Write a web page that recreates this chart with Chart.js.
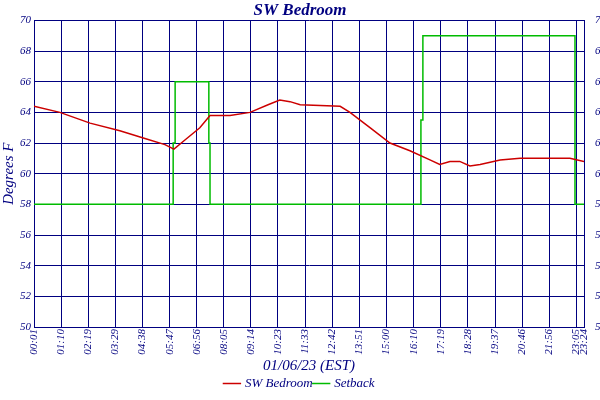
<!DOCTYPE html><html><head><script src="https://cdn.jsdelivr.net/npm/chart.js@4"></script>
<style>body{margin:0;background:#fff}#w{width:600px;height:400px}</style></head><body><div id="w"><canvas id="c"></canvas></div>
<script>
const tickMinutes=[1,70,139,209,278,347,416,485,554,623,693,762,831,900,970,1039,1108,1177,1246,1316,1385,1404];
const tickLabels=["00:01","01:10","02:19","03:29","04:38","05:47","06:56","08:05","09:14","10:23","11:33","12:42","13:51","15:00","16:10","17:19","18:28","19:37","20:46","21:56","23:05","23:24"];
const tempMinutes=[1,67,144,220,284,335,358,386,424,450,501,552,598,628,654,680,782,807,858,909,960,1011,1036,1062,1087,1113,1139,1190,1241,1317,1368,1404];
const tempValues=[64.4,64.0,63.3,62.8,62.3,61.9,61.6,62.2,63.0,63.8,63.8,64.0,64.5,64.8,64.7,64.5,64.4,64.0,63.0,62.0,61.5,60.9,60.6,60.8,60.8,60.5,60.6,60.9,61.0,61.0,61.0,60.8];
const setMinutes=[1,356,356,361,361,447,447,450,450,988,988,993,993,1381,1381,1404];
const setValues=[58,58,62,62,66,66,62,62,58,58,63.5,63.5,69,69,58,58];
const navy='#000080';
const F="'Liberation Serif'";
const mk=(xs,ys)=>xs.map((x,i)=>({x,y:ys[i]}));
new Chart(document.getElementById('c'),{type:'line',data:{datasets:[
{label:'SW Bedroom',data:mk(tempMinutes,tempValues),borderColor:'#cc0000',backgroundColor:'#cc0000',borderWidth:1.5,pointRadius:0,tension:0},
{label:'Setback',data:mk(setMinutes,setValues),borderColor:'#00bb00',backgroundColor:'#00bb00',borderWidth:1.5,pointRadius:0,tension:0}]},
options:{animation:false,responsive:true,maintainAspectRatio:false,layout:{padding:{left:0,right:0,top:0,bottom:0}},
plugins:{title:{display:true,text:'SW Bedroom',color:navy,font:{family:F,size:17,style:'italic',weight:'bold'},padding:{top:0,bottom:0}},
legend:{position:'bottom',labels:{usePointStyle:true,pointStyle:'line',color:navy,font:{family:F,size:13,style:'italic'},boxWidth:20,padding:2}},tooltip:{enabled:false}},
scales:{x:{type:'linear',min:1,max:1404,afterBuildTicks:a=>{a.ticks=tickMinutes.map(v=>({value:v}))},
afterFit:s=>{s.height=48},
ticks:{autoSkip:false,maxRotation:90,minRotation:90,color:navy,font:{family:F,size:11,style:'italic'},padding:2,callback:(v)=>tickLabels[tickMinutes.indexOf(v)]},
grid:{color:navy,lineWidth:1,drawTicks:false},border:{color:navy},
title:{display:true,text:'01/06/23 (EST)',color:navy,font:{family:F,size:15,style:'italic'},padding:{top:0,bottom:0}}},
y:{min:50,max:70,afterFit:s=>{s.width=34},ticks:{stepSize:2,color:navy,font:{family:F,size:11,style:'italic'},padding:3},grid:{color:navy,drawTicks:false},border:{color:navy},
title:{display:true,text:'Degrees F',color:navy,font:{family:F,size:15,style:'italic'},padding:0}},
y2:{position:'right',min:50,max:70,afterFit:s=>{s.width=16},ticks:{stepSize:2,color:navy,font:{family:F,size:11,style:'italic'},padding:3},grid:{display:false},border:{color:navy}}}}});
</script></body></html>
